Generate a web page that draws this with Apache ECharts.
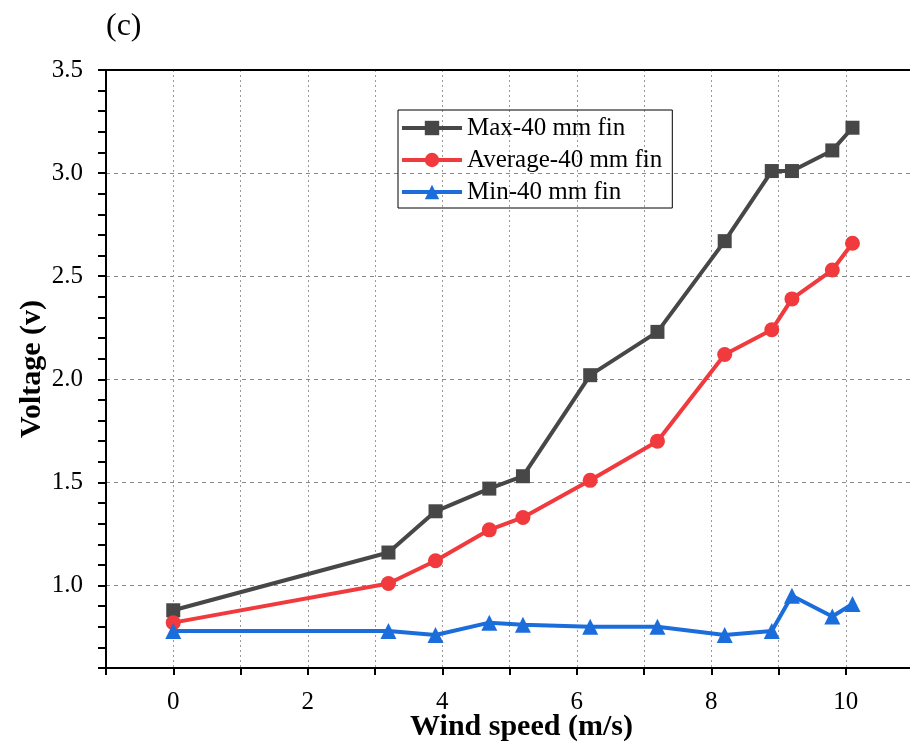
<!DOCTYPE html>
<html>
<head>
<meta charset="utf-8">
<script src="https://cdn.jsdelivr.net/npm/echarts@6/dist/echarts.min.js"></script>
<style>
  html, body { margin: 0; padding: 0; background: #fff; }
  #chart { width: 910px; height: 747px; }
</style>
</head>
<body>
<div id="chart"></div>
<script>
// wind speed (m/s)
var windSpeed = [0, 3.2, 3.9, 4.7, 5.2, 6.2, 7.2, 8.2, 8.9, 9.2, 9.8, 10.1];
// voltage (v)
var maxVolt = [0.88, 1.16, 1.36, 1.47, 1.53, 2.02, 2.23, 2.67, 3.01, 3.01, 3.11, 3.22];
var avgVolt = [0.82, 1.01, 1.12, 1.27, 1.33, 1.51, 1.70, 2.12, 2.24, 2.39, 2.53, 2.66];
var minVolt = [0.78, 0.78, 0.76, 0.82, 0.81, 0.80, 0.80, 0.76, 0.78, 0.95, 0.85, 0.91];
var seriesNames = ['Max-40 mm fin', 'Average-40 mm fin', 'Min-40 mm fin'];

function pairs(ys) {
    return windSpeed.map(function (x, i) { return [x, ys[i]]; });
}

var serif = '"Liberation Serif", "DejaVu Serif", serif';
var chart = echarts.init(document.getElementById('chart'));

var option = {
    animation: false,
    title: {
        text: '(c)',
        left: 101,
        top: 6,
        textStyle: { fontFamily: serif, fontSize: 32, fontWeight: 'normal', color: '#000' }
    },
    legend: {
        orient: 'vertical',
        left: 398,
        top: 110,
        itemWidth: 60,
        itemHeight: 18,
        itemGap: 4,
        padding: [4, 10, 2, 2],
        borderColor: '#000',
        borderWidth: 1,
        lineStyle: { width: 4 },
        textStyle: { fontFamily: serif, fontSize: 25, color: '#000', lineHeight: 28 },
        data: seriesNames
    },
    grid: { left: 106, right: -3, top: 70, bottom: 79, outerBoundsMode: 'none', containLabel: false },
    xAxis: [{
        type: 'value',
        min: -1,
        max: 11,
        interval: 1,
        name: 'Wind speed (m/s)',
        nameLocation: 'middle',
        nameGap: 44,
        nameMoveOverlap: false,
        nameTextStyle: { fontFamily: serif, fontSize: 30, fontWeight: 'bold', color: '#000', padding: [0, 0, 0, 24] },
        axisLine: { onZero: false, lineStyle: { color: '#000', width: 2 } },
        axisTick: { inside: false, length: 7, lineStyle: { color: '#000', width: 2 } },
        axisLabel: {
            fontFamily: serif, fontSize: 25, color: '#000', margin: 22,
            formatter: function (v) { return (v >= 0 && v <= 10 && v % 2 === 0) ? String(v) : ''; }
        },
        splitLine: { show: true, lineStyle: { color: '#9a9a9a', type: [2, 3], width: 1 } }
    }, {
        type: 'value',
        position: 'top',
        min: -1,
        max: 11,
        axisLine: { show: true, onZero: false, lineStyle: { color: '#000', width: 2 } },
        axisTick: { show: false },
        axisLabel: { show: false },
        splitLine: { show: false }
    }],
    yAxis: {
        type: 'value',
        min: 0.6,
        max: 3.5,
        interval: 0.1,
        name: 'Voltage (v)',
        nameLocation: 'middle',
        nameGap: 59,
        nameMoveOverlap: false,
        nameTextStyle: { fontFamily: serif, fontSize: 30, fontWeight: 'bold', color: '#000' },
        axisLine: { show: true, onZero: false, lineStyle: { color: '#000', width: 2 } },
        axisTick: { show: true, length: 8, lineStyle: { color: '#000', width: 2 } },
        axisLabel: {
            fontFamily: serif, fontSize: 25, color: '#000', margin: 23,
            formatter: function (v) {
                return Math.abs(v * 2 - Math.round(v * 2)) < 1e-6 ? v.toFixed(1) : '';
            }
        },
        splitLine: {
            show: true,
            showMinLine: true,
            lineStyle: { color: ['rgba(0,0,0,0)', 'rgba(0,0,0,0)', 'rgba(0,0,0,0)', 'rgba(0,0,0,0)', '#8a8a8a'], type: [4, 4], width: 1 }
        }
    },
    series: [{
        name: seriesNames[0],
        type: 'line',
        data: pairs(maxVolt),
        symbol: 'rect',
        symbolSize: 14,
        color: '#474747',
        lineStyle: { width: 4 },
        itemStyle: { color: '#474747' }
    }, {
        name: seriesNames[1],
        type: 'line',
        data: pairs(avgVolt),
        symbol: 'circle',
        symbolSize: 15,
        color: '#f03a3d',
        lineStyle: { width: 4 },
        itemStyle: { color: '#f03a3d' }
    }, {
        name: seriesNames[2],
        type: 'line',
        data: pairs(minVolt),
        symbol: 'triangle',
        symbolSize: 16,
        color: '#1b6ddc',
        lineStyle: { width: 4 },
        itemStyle: { color: '#1b6ddc' }
    }]
};

chart.setOption(option);
</script>
</body>
</html>
